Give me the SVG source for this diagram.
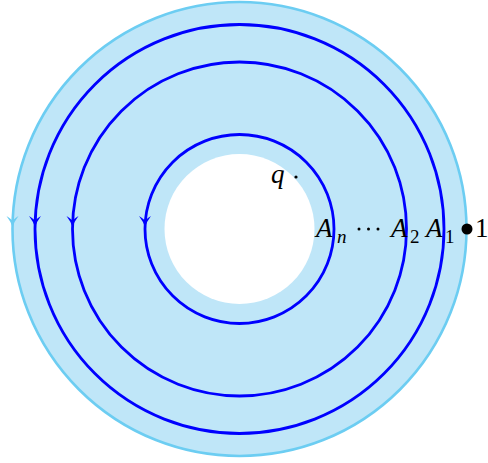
<svg xmlns="http://www.w3.org/2000/svg" width="488" height="463" viewBox="0 0 488 463">
<style>
.loop{fill:none;stroke:#0000FF;stroke-width:2.8}
.t{font-family:"Liberation Serif","DejaVu Serif",serif;font-style:italic;font-size:27px;fill:#000}
.s{font-family:"Liberation Serif","DejaVu Serif",serif;font-size:19px;fill:#000}
.u{font-family:"Liberation Serif","DejaVu Serif",serif;font-size:27px;fill:#000}
</style>
<defs>
<path id="ah" d="M0,0 Q-1.5,-5 -6,-11 Q0,-7 0,-6 Q0,-7 6,-11 Q1.5,-5 0,0 Z"/>
</defs>
<g id="annulus">
<circle cx="239.5" cy="229" r="227" fill="#BFE6F8" stroke="#6CCDF2" stroke-width="2.6"/>
<circle cx="239.5" cy="229" r="75" fill="#FFFFFF"/>
<use href="#ah" x="12.5" y="227" fill="#6CCDF2"/>
</g>
<g id="connectors">
<circle class="loop" cx="239.5" cy="229" r="204.5"/>
<circle class="loop" cx="239.5" cy="229" r="167"/>
<circle class="loop" cx="239.5" cy="229" r="94.5"/>
<use href="#ah" x="35" y="227" fill="#0000FF"/>
<use href="#ah" x="72.5" y="227" fill="#0000FF"/>
<use href="#ah" x="145" y="227" fill="#0000FF"/>
</g>
<g id="labels">
<text class="t" x="271" y="183">q</text>
<circle cx="296" cy="177" r="1.6" fill="#000"/>
<text class="t" x="316" y="237">A</text>
<text class="s" x="337" y="243" font-style="italic">n</text>
<circle cx="359" cy="229" r="1.5" fill="#000"/>
<circle cx="368.5" cy="229" r="1.5" fill="#000"/>
<circle cx="378" cy="229" r="1.5" fill="#000"/>
<text class="t" x="391" y="237">A</text>
<text class="s" x="410" y="243">2</text>
<text class="t" x="426" y="237">A</text>
<text class="s" x="445" y="243">1</text>
<circle cx="467" cy="229" r="5.5" fill="#000"/>
<text class="u" x="475" y="237">1</text>
</g>
</svg>
